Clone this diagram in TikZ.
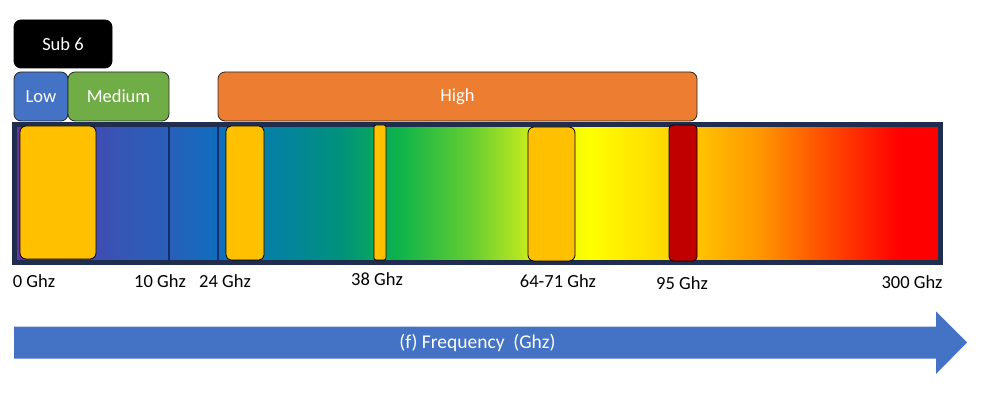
\documentclass[tikz,border=0pt]{standalone}
\usepackage{fontspec}
\setmainfont{Carlito}
\definecolor{navy}{RGB}{31,46,78}
\definecolor{arrowblue}{RGB}{68,114,196}
\definecolor{tagline}{RGB}{40,40,40}
\definecolor{bandyellow}{RGB}{255,192,0}
\definecolor{bandred}{RGB}{192,0,0}
\definecolor{sepblue}{RGB}{20,45,110}
\definecolor{medgreen}{RGB}{112,173,71}
\definecolor{highorange}{RGB}{237,125,49}
\definecolor{g0}{RGB}{105,50,160}
\definecolor{g1}{RGB}{75,65,175}
\definecolor{g2}{RGB}{55,85,180}
\definecolor{g3}{RGB}{40,95,185}
\definecolor{g4}{RGB}{15,110,190}
\definecolor{g5}{RGB}{5,128,165}
\definecolor{g6}{RGB}{0,145,125}
\definecolor{g7}{RGB}{15,180,75}
\definecolor{g8}{RGB}{100,205,50}
\definecolor{g9}{RGB}{200,235,30}
\definecolor{g10}{RGB}{255,255,0}
\definecolor{g11}{RGB}{255,208,0}
\definecolor{g12}{RGB}{255,150,0}
\definecolor{g13}{RGB}{255,50,0}
\definecolor{g14}{RGB}{255,0,0}
\begin{document}
\begin{tikzpicture}[x=1pt,y=-1pt,
  lab/.style={font=\fontsize{18.5}{22}\selectfont, inner sep=0pt},
  tag/.style={draw=tagline, line width=0.8pt, rounded corners=7pt, anchor=north west, inner sep=0pt, outer sep=0pt, font=\fontsize{18.5}{22}\selectfont, text=white},
  band/.style={draw=black, line width=0.8pt, rounded corners=6pt, anchor=north west, inner sep=0pt, outer sep=0pt, fill=bandyellow},
  sep/.style={draw=sepblue, line width=1.6pt}
]
\useasboundingbox (0,0) rectangle (982,395);
% gradient bar
\def\seg#1#2#3#4{\shade[left color=#3, right color=#4] (#1,125) rectangle (#2,262);}
\seg{15}{60}{g0}{g1}
\seg{59.5}{120}{g1}{g2}
\seg{119.5}{169}{g2}{g3}
\seg{168.5}{218}{g3}{g4}
\seg{217.5}{270}{g4}{g5}
\seg{269.5}{340}{g5}{g6}
\seg{339.5}{400}{g6}{g7}
\seg{399.5}{470}{g7}{g8}
\seg{469.5}{530}{g8}{g9}
\seg{529.5}{590}{g9}{g10}
\seg{589.5}{680}{g10}{g11}
\seg{679.5}{760}{g11}{g12}
\seg{759.5}{850}{g12}{g13}
\seg{849.5}{900}{g13}{g14}
\fill[g14] (899.5,125) rectangle (941,262);
\node[draw=navy, line width=5pt, minimum width=926pt, minimum height=138pt, anchor=north west, inner sep=0pt, outer sep=0pt] (bar) at (14.5,124.5) {};
\coordinate (s1t) at (169,126); \coordinate (s1b) at (169,261);
\coordinate (s2t) at (218,126); \coordinate (s2b) at (218,261);
\draw[sep] (s1t) -- (s1b);
\draw[sep] (s2t) -- (s2b);
% bands
\node[band, minimum width=76pt, minimum height=133pt] (b1) at (20,126) {};
\node[band, minimum width=38pt, minimum height=134pt, rounded corners=5pt] (b2) at (226,126) {};
\node[band, minimum width=12pt, minimum height=135pt, rounded corners=2pt] (b3) at (374,125) {};
\node[band, minimum width=47pt, minimum height=134pt] (b4) at (528,127) {};
\node[band, minimum width=28pt, minimum height=136pt, rounded corners=4pt, fill=bandred] (b5) at (669,125) {};
% top tags
\node[tag, fill=black, draw=black, minimum width=98pt, minimum height=48pt] (sub6) at (14,20) {Sub 6};
\node[tag, fill=arrowblue, minimum width=54pt, minimum height=49pt] (low) at (14,72) {Low};
\node[tag, fill=medgreen, minimum width=101pt, minimum height=49pt] (med) at (68,72) {Medium};
\node[tag, fill=highorange, minimum width=479pt, minimum height=49pt] (high) at (218,72) {High};
% labels
\node[lab] (l0) at (34,281) {0 Ghz};
\node[lab] (l10) at (160,281) {10 Ghz};
\node[lab] (l24) at (225,281) {24 Ghz};
\node[lab] (l38) at (377,279) {38 Ghz};
\node[lab] (l64) at (558,281) {64-71 Ghz};
\node[lab] (l95) at (682,283) {95 Ghz};
\node[lab] (l300) at (912,282) {300 Ghz};
% arrow
\fill[arrowblue] (14,326.5) -- (936,326.5) -- (936,311.5) -- (967,342.5) -- (936,374) -- (936,358.5) -- (14,358.5) -- cycle;
\node[lab, text=white, font=\fontsize{19.5}{23}\selectfont] (freq) at (477.5,342.5) {(f) Frequency\ \ (Ghz)};
\end{tikzpicture}
\end{document}
